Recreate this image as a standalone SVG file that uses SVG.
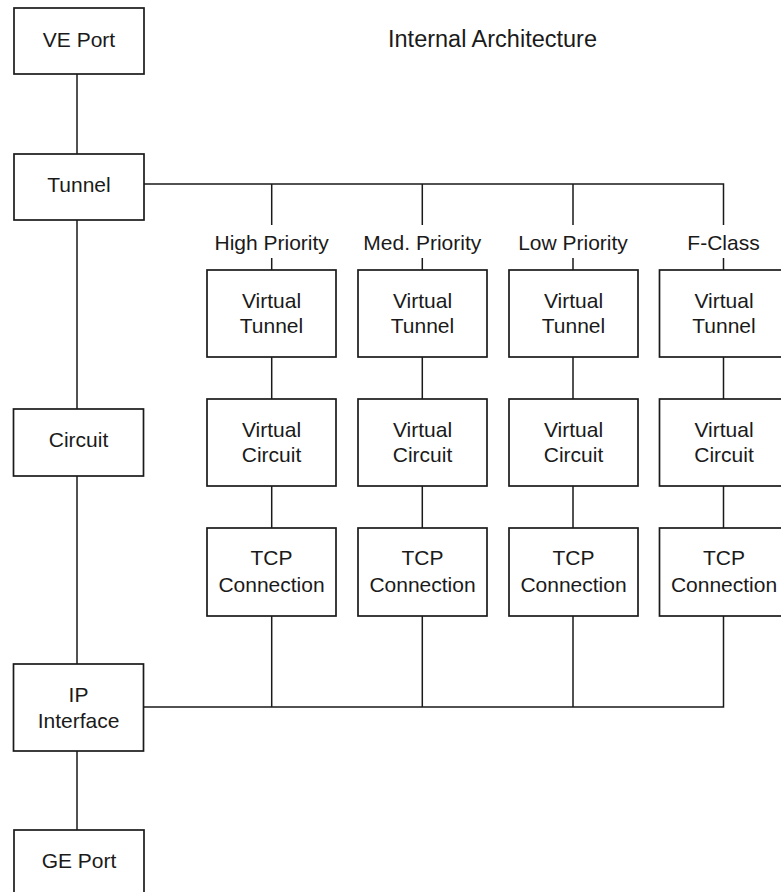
<svg xmlns="http://www.w3.org/2000/svg" width="781" height="892" viewBox="0 0 781 892">
<style>
.box{fill:#fff;stroke:#1a1a1a;stroke-width:1.7}
.ln{fill:none;stroke:#1a1a1a;stroke-width:1.5}
text{font-family:"Liberation Sans",Arial,sans-serif;font-size:21px;fill:#1a1a1a;text-anchor:middle}
.title{font-size:23.5px;text-anchor:start}
</style>
<rect width="781" height="892" fill="#fff"/>
<g id="connectors">
<path class="ln" d="M77,74V154M77,220V409M77,476V664M77,751V830"/>
<path class="ln" d="M144,184H723.5V225M271.7,184V225M422.3,184V225M573,184V225"/>
<path class="ln" d="M271.7,258V270M422.3,258V270M573,258V270M723.5,258V270"/>
<path class="ln" d="M271.7,357V399M422.3,357V399M573,357V399M723.5,357V399"/>
<path class="ln" d="M271.7,486V528M422.3,486V528M573,486V528M723.5,486V528"/>
<path class="ln" d="M143,707H723.5V616M271.7,616V707M422.3,616V707M573,616V707"/>
</g>
<text class="title" x="388" y="46.5">Internal Architecture</text>
<g id="ve-port"><rect class="box" x="14" y="8" width="130" height="66"/><text x="79" y="46.5">VE Port</text></g>
<g id="tunnel"><rect class="box" x="14" y="154" width="130" height="66"/><text x="79" y="191.5">Tunnel</text></g>
<g id="circuit"><rect class="box" x="13.5" y="409" width="130" height="67"/><text x="78.5" y="446.5">Circuit</text></g>
<g id="ip-interface"><rect class="box" x="13.5" y="664" width="130" height="87"/><text x="78.5" y="701.5">IP</text><text x="78.5" y="728">Interface</text></g>
<g id="ge-port"><rect class="box" x="14" y="830" width="130" height="66"/><text x="79" y="868">GE Port</text></g>
<g id="label-high"><text x="271.7" y="250">High Priority</text></g>
<g id="label-med"><text x="422.3" y="250">Med. Priority</text></g>
<g id="label-low"><text x="573" y="250">Low Priority</text></g>
<g id="label-fclass"><text x="723.5" y="250">F-Class</text></g>
<g id="vt-high"><rect class="box" x="207" y="270" width="129" height="87"/><text x="271.5" y="308">Virtual</text><text x="271.5" y="333">Tunnel</text></g>
<g id="vt-med"><rect class="box" x="358" y="270" width="129" height="87"/><text x="422.5" y="308">Virtual</text><text x="422.5" y="333">Tunnel</text></g>
<g id="vt-low"><rect class="box" x="509" y="270" width="129" height="87"/><text x="573.5" y="308">Virtual</text><text x="573.5" y="333">Tunnel</text></g>
<g id="vt-fclass"><rect class="box" x="659.5" y="270" width="129" height="87"/><text x="724" y="308">Virtual</text><text x="724" y="333">Tunnel</text></g>
<g id="vc-high"><rect class="box" x="207" y="399" width="129" height="87"/><text x="271.5" y="437">Virtual</text><text x="271.5" y="462">Circuit</text></g>
<g id="vc-med"><rect class="box" x="358" y="399" width="129" height="87"/><text x="422.5" y="437">Virtual</text><text x="422.5" y="462">Circuit</text></g>
<g id="vc-low"><rect class="box" x="509" y="399" width="129" height="87"/><text x="573.5" y="437">Virtual</text><text x="573.5" y="462">Circuit</text></g>
<g id="vc-fclass"><rect class="box" x="659.5" y="399" width="129" height="87"/><text x="724" y="437">Virtual</text><text x="724" y="462">Circuit</text></g>
<g id="tcp-high"><rect class="box" x="207" y="528" width="129" height="88"/><text x="271.5" y="565">TCP</text><text x="271.5" y="591.5">Connection</text></g>
<g id="tcp-med"><rect class="box" x="358" y="528" width="129" height="88"/><text x="422.5" y="565">TCP</text><text x="422.5" y="591.5">Connection</text></g>
<g id="tcp-low"><rect class="box" x="509" y="528" width="129" height="88"/><text x="573.5" y="565">TCP</text><text x="573.5" y="591.5">Connection</text></g>
<g id="tcp-fclass"><rect class="box" x="659.5" y="528" width="129" height="88"/><text x="724" y="565">TCP</text><text x="724" y="591.5">Connection</text></g>
</svg>
